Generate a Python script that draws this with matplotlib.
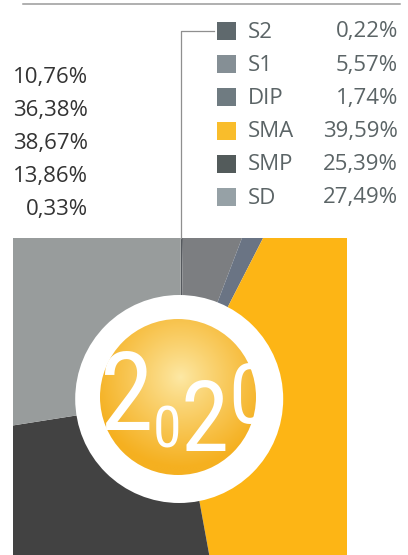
import numpy as np
import matplotlib
matplotlib.use("Agg")
import matplotlib.pyplot as plt
from matplotlib.patches import Circle, Rectangle
from matplotlib import font_manager
from matplotlib.colors import to_rgb

# ---- data ----
labels = ["S2", "S1", "DIP", "SMA", "SMP", "SD"]
values = [0.22, 5.57, 1.74, 39.59, 25.39, 27.49]
value_text = ["0,22%", "5,57%", "1,74%", "39,59%", "25,39%", "27,49%"]
legend_colors = ["#5f696d", "#858f95", "#6f7b81", "#f9bd2b", "#535b5b", "#96a1a6"]
pie_colors = ["#55595e", "#7c7e81", "#6a7484", "#fdb515", "#424242", "#989c9c"]
other_year_text = ["10,76%", "36,38%", "38,67%", "13,86%", "0,33%"]
logo_digits = ["2", "0", "2", "0"]

W, H = 408, 555
names = {f.name for f in font_manager.fontManager.ttflist}
main_font = "Open Sans" if "Open Sans" in names else "DejaVu Sans"
logo_font, glyph_w = "DejaVu Sans", 0.62
for fam, gw in [("Roboto Condensed", 0.45), ("Liberation Sans Narrow", 0.44),
                ("Roboto", 0.53), ("Liberation Sans", 0.53)]:
    if fam in names:
        logo_font, glyph_w = fam, gw
        break

fig = plt.figure(figsize=(W / 100, H / 100), dpi=100)
fig.patch.set_facecolor("white")

# ---- pie axes (clipped square) ----
cx, cy = 180.7, 399.0          # pie centre in pixels
left, right, top, bottom = 13, 347, 238, 555
ax = fig.add_axes([left / W, 1 - bottom / H, (right - left) / W, (bottom - top) / H])
wedges, _ = ax.pie(values, colors=pie_colors, startangle=90, counterclock=False,
                   radius=600, center=(0, 0), wedgeprops=dict(linewidth=0))
for w in wedges:
    w.set_clip_on(True)
    w.set_clip_path(ax.patch)

# gold gradient disc
gx, gy, gr = -2.7, 2.0, 78
n = 300
xs = np.linspace(gx - gr, gx + gr, n)
ys = np.linspace(gy - gr, gy + gr, n)
X, Y = np.meshgrid(xs, ys)
d = np.hypot(X - 0, Y - 22)
t = np.clip(d / 90, 0, 1) ** 0.9
c1 = np.array(to_rgb("#fde9a6"))
c2 = np.array(to_rgb("#f5b020"))
img = c1[None, None, :] * (1 - t[..., None]) + c2[None, None, :] * t[..., None]

ring = Circle((-1.5, 0), 104, facecolor="white", edgecolor="none", zorder=3)
ax.add_patch(ring)
clip = Circle((gx, gy), gr, transform=ax.transData)
im = ax.imshow(img, extent=(gx - gr, gx + gr, gy - gr, gy + gr), origin="lower",
               aspect="auto", zorder=4)
im.set_clip_path(clip)

# "2020" digits: target boxes in pixels (left, right, top, bottom)
digit_boxes = [(102, 151, 335, 447), (154, 180, 383, 470),
               (183, 227, 363, 468), (230, 268, 345, 440)]
for ch, (x0, x1, y0, y1) in zip(logo_digits, digit_boxes):
    em = min((x1 - x0) / glyph_w, (y1 - y0) / 0.72)
    hgt = em * 0.72
    base = (y0 + y1) / 2 + hgt / 2
    ax.text((x0 + x1) / 2 - cx, cy - base, ch, color="white", fontsize=em * 0.72,
            family=logo_font, ha="center", va="baseline", zorder=5, clip_on=True)

ax.set_xlim(left - cx, right - cx)
ax.set_ylim(cy - bottom, cy - top)
ax.set_aspect("auto")
ax.axis("off")

# ---- overlay for text / legend ----
ov = fig.add_axes([0, 0, 1, 1], facecolor="none")
ov.set_xlim(0, W)
ov.set_ylim(H, 0)
ov.axis("off")

ov.plot([23, 400], [3.5, 3.5], color="#9a9a9a", lw=1.1)
# leader line
ov.plot([214, 181, 181], [31, 31, 238], color="#8f8f8f", lw=0.9)

row_y = [31 + 33.2 * i for i in range(len(labels))]
for lab, vt, col, y in zip(labels, value_text, legend_colors, row_y):
    ov.add_patch(Rectangle((216.7, y - 9), 19, 18, facecolor=col, edgecolor="none"))
    ov.text(248, y + 1, lab, color="#5b6466", fontsize=16, family=main_font,
            ha="left", va="center")
    ov.text(398, y + 1, vt, color="#5b6466", fontsize=16, family=main_font,
            ha="right", va="center")

for i, txt in enumerate(other_year_text):
    ov.text(88, 77 + 33.2 * i, txt, color="#333333", fontsize=16, family=main_font,
            ha="right", va="center")

fig.savefig("out.png", dpi=100, facecolor="white")
